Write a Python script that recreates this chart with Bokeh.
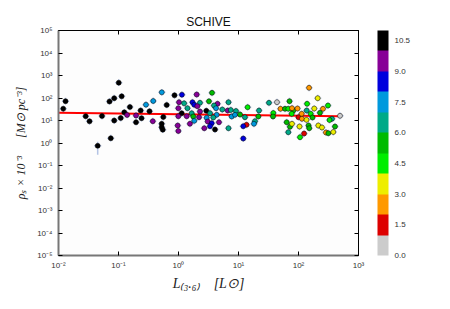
from bokeh.plotting import figure
from bokeh.models import (LogAxis, FixedTicker, ColorBar, LinearColorMapper,
                          PrintfTickFormatter, CustomJSTickFormatter, ColumnDataSource)
from bokeh.embed import file_html
from bokeh.resources import INLINE

# --- data -------------------------------------------------------------------
lum = [0.0120, 0.0131, 0.0284, 0.0329, 0.0531, 0.0450, 0.0744, 0.0708, 0.0848, 0.101,
       0.113, 0.0848, 0.109, 0.125, 0.155, 0.139, 0.196, 0.196, 0.234, 0.242,
       0.287, 0.329, 0.379, 0.373, 0.527, 0.636, 0.558, 0.525, 0.547, 0.525,
       0.858, 1.14, 2.01, 3.62, 1.02, 1.24, 1.71, 2.28, 3.22, 4.47,
       6.81, 0.993, 1.41, 1.83, 2.06, 2.91, 3.91, 4.22, 5.37, 6.61,
       7.44, 7.70, 1.13, 1.66, 2.28, 3.35, 4.33, 0.993, 1.37, 1.76,
       2.20, 2.95, 3.80, 1.83, 1.55, 3.07, 3.58, 4.73, 0.970, 2.69,
       3.35, 4.06, 6.81, 0.993, 14.2, 9.08, 10.6, 8.74, 12.8, 22.0,
       21.4, 18.8, 18.1, 13.6, 12.0, 12.0, 32.2, 43.8, 38.0, 37.6,
       50.1, 59.6, 70.8, 67.6, 81.9, 77.9, 96.2, 77.0, 63.6, 72.1,
       77.9, 67.6, 104, 100, 106, 150, 209, 310, 256, 139,
       183, 137, 228, 160, 113, 114, 136, 171, 362, 329,
       492, 147, 151, 214, 246, 406, 287, 314, 380, 124]
rho = [33.1, 72.1, 15.5, 9.21, 15.8, 0.751, 1.63, 69.9, 98.0, 479,
       119, 10.0, 12.9, 23.1, 39.8, 17.6, 16.7, 8.40, 27.8, 12.7,
       50.4, 25.6, 73.6, 9.31, 179, 48.9, 14.3, 5.04, 3.90, 7.13,
       132, 140, 143, 170, 65.1, 58.1, 65.1, 61.2, 71.3, 55.2,
       65.1, 35.2, 35.2, 49.9, 43.2, 27.0, 46.4, 35.2, 30.8, 27.8,
       29.3, 15.1, 21.1, 21.1, 25.1, 21.1, 17.9, 15.5, 15.5, 15.1,
       14.0, 13.2, 13.6, 9.70, 7.13, 9.03, 7.59, 8.40, 5.99, 4.55,
       5.58, 3.98, 4.55, 3.42, 39.0, 26.4, 18.5, 17.9, 14.0, 27.8,
       15.1, 9.31, 7.13, 6.44, 5.58, 1.58, 61.2, 65.1, 21.5, 15.1,
       33.1, 33.1, 72.1, 33.1, 27.8, 35.2, 34.1, 19.9, 8.40, 5.25,
       7.13, 3.02, 5.41, 14.0, 1.81, 284, 98.0, 46.4, 33.1, 55.2,
       34.1, 27.8, 22.0, 19.9, 19.9, 11.9, 10.7, 13.6, 11.9, 10.5,
       16.2, 5.99, 4.55, 5.99, 4.89, 5.41, 2.93, 2.73, 3.08, 2.64]
ttype = [10, 10, 10, 10, 10, 10, 10, 10, 10, 10,
         10, 10, 10, 10, 10, 9, 9, 10, 10, 10,
         7, 10, 7, 9, 7, 10, 10, 10, 10, 10,
         10, 8, 9, 5, 9, 6, 8, 6, 5, 9,
         6, 9, 6, 8, 9, 10, 6, 7, 6, 9,
         6, 7, 10, 6, 9, 6, 7, 9, 9, 5,
         9, 7, 6, 7, 9, 9, 8, 9, 9, 9,
         8, 10, 6, 9, 4, 6, 5, 7, 6, 6,
         5, 6, 7, 1, 8, 8, 6, 0, 4, 5,
         2, 5, 5, 4, 5, 2, 2, 4, 5, 5,
         3, 6, 3, 1, 4, 2, 3, 4, 2, 4,
         3, 6, 5, 4, 2, 2, 3, 5, 6, 4,
         0, 5, 5, 3, 3, 5, 2, 5, 3, 1]

# typical log-errors (dex); one point has a larger vertical error
lum_err_dex = 0.06
rho_err_dex = 0.15
rho_err_override = {5: (0.40, 0.18)}   # index: (down, up)

fit_lum = [0.01, 490]
fit_rho = [22.0, 15.5]

x_ticks = [1e-2, 1e-1, 1e0, 1e1, 1e2, 1e3]
y_ticks = [1e-5, 1e-4, 1e-3, 1e-2, 1e-1, 1e0, 1e1, 1e2, 1e3, 1e4, 1e5]
cbar_ticks = [0.0, 1.5, 3.0, 4.5, 6.0, 7.5, 9.0, 10.5]
palette = ["#cccccc", "#dd0000", "#ff9900", "#eeee00", "#00ee00", "#00bb00",
           "#00aa88", "#0099dd", "#0000dd", "#870097", "#000000"]

# --- error bar segments --------------------------------------------------------
xf = 10 ** lum_err_dex
ex0, ex1, ey0, ey1 = [], [], [], []
for i, (x, y) in enumerate(zip(lum, rho)):
    dn, up = rho_err_override.get(i, (rho_err_dex, rho_err_dex))
    ex0.append(x / xf); ex1.append(x * xf)
    ey0.append(y / 10 ** dn); ey1.append(y * 10 ** up)

# colour lookup at the centre of each unit-wide T-type bin
src = ColumnDataSource(dict(x=lum, y=rho, tc=[t + 0.5 for t in ttype],
                            ex0=ex0, ex1=ex1, ey0=ey0, ey1=ey1))

mapper = LinearColorMapper(palette=palette, low=0, high=11)

p = figure(width=450, height=309, x_axis_type="log", y_axis_type="log",
           x_range=(1e-2, 1e3), y_range=(1e-5, 1e5),
           output_backend="svg", toolbar_location=None,
           min_border_left=58, min_border_right=92, min_border_top=30, min_border_bottom=54,
           title="SCHIVE")
p.title.align = "center"
p.title.text_font = "Liberation Sans"
p.title.text_font_size = "12px"
p.title.text_font_style = "normal"
p.title.text_color = "#111111"
p.title.standoff = 3

p.background_fill_color = "#fdfdfd"
p.border_fill_color = "white"
p.outline_line_color = "black"
p.outline_line_width = 1
p.grid.visible = False

sup = """
const e = Math.round(Math.log10(tick));
const m = {"-":"\u207b","0":"\u2070","1":"\u00b9","2":"\u00b2","3":"\u00b3","4":"\u2074",
           "5":"\u2075","6":"\u2076","7":"\u2077","8":"\u2078","9":"\u2079"};
return "10" + String(e).split("").map(c => m[c]).join("");
"""

for ax, ticks in ((p.xaxis[0], x_ticks), (p.yaxis[0], y_ticks)):
    ax.ticker = FixedTicker(ticks=ticks, minor_ticks=[])
    ax.formatter = CustomJSTickFormatter(code=sup)
    ax.major_tick_in = 4
    ax.major_tick_out = 0
    ax.major_tick_line_color = "black"
    ax.axis_line_color = "#777777"
    ax.axis_line_width = 2
    ax.major_label_text_font = "Liberation Sans"
    ax.major_label_text_font_size = "8px"
    ax.major_label_text_color = "#333333"
    ax.axis_label_text_font = "Liberation Serif"
    ax.axis_label_text_font_style = "italic"
    ax.axis_label_text_color = "#222222"

p.xaxis.axis_label = "L\u208d\u2083.\u2086\u208e\u2002\u2002[L\u2299]"
p.xaxis.axis_label_text_font_size = "14px"
p.xaxis.major_label_standoff = 5
p.xaxis.axis_label_standoff = 3
p.yaxis.axis_label = "\u03c1\u209b \u00d7 10\u207b\u00b3\u2003\u2002[M\u2299 pc\u207b\u00b3]"
p.yaxis.axis_label_text_font_size = "12px"
p.yaxis.major_label_standoff = 6
p.yaxis.axis_label_standoff = 6

top = LogAxis(ticker=FixedTicker(ticks=x_ticks, minor_ticks=[]), major_tick_in=4,
              major_tick_out=0, major_label_text_font_size="1px",
              major_label_text_color=None, major_label_standoff=0,
              axis_line_color="black")
right = LogAxis(ticker=FixedTicker(ticks=y_ticks, minor_ticks=[]), major_tick_in=4,
                major_tick_out=0, major_label_text_font_size="1px",
                major_label_text_color=None, major_label_standoff=0,
                axis_line_color="black")
p.add_layout(top, "above")
p.add_layout(right, "right")

p.segment(x0="ex0", y0="y", x1="ex1", y1="y", source=src, line_color="#5b7fc7",
          line_alpha=0.45, line_width=1.5)
p.segment(x0="x", y0="ey0", x1="x", y1="ey1", source=src, line_color="#5b7fc7",
          line_alpha=0.45, line_width=1.5)
p.line(fit_lum, fit_rho, line_color="red", line_width=2)
p.scatter(x="x", y="y", source=src, size=5, marker="circle",
          fill_color={"field": "tc", "transform": mapper},
          line_color="black", line_width=0.5)

cb = ColorBar(color_mapper=mapper, ticker=FixedTicker(ticks=cbar_ticks),
              formatter=PrintfTickFormatter(format="%.1f"), width=11, padding=0,
              margin=0, location=(19, 0), label_standoff=6, major_tick_line_color=None,
              major_label_text_font="Liberation Sans", major_label_text_font_size="8px",
              major_label_text_color="#333333", bar_line_color=None,
              background_fill_color=None, border_line_color=None)
p.add_layout(cb, "right")

open("out.html", "w").write(file_html(p, INLINE))
